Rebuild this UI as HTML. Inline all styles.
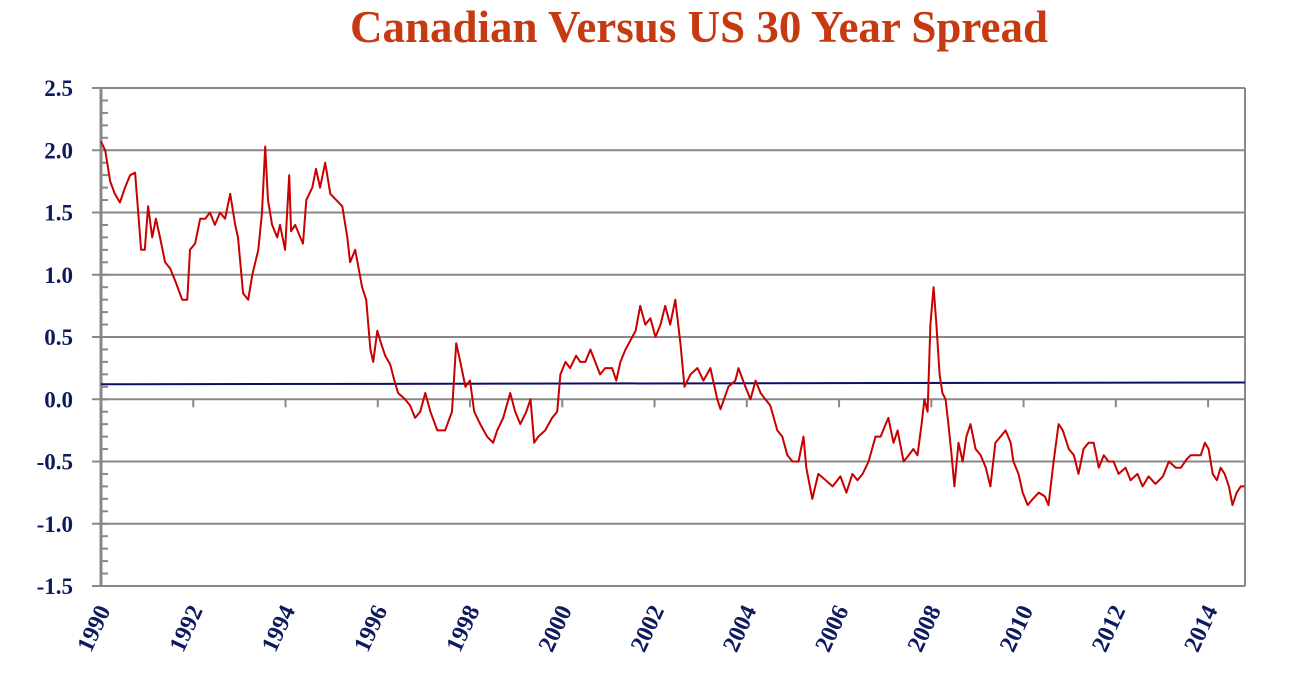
<!DOCTYPE html>
<html><head><meta charset="utf-8"><style>
body{margin:0;background:#fff;}
svg{display:block;}
</style></head><body>
<svg id="chart" width="1296" height="679" xmlns="http://www.w3.org/2000/svg">
<text x="699" y="42" text-anchor="middle" font-family="Liberation Serif, serif" font-weight="bold" font-size="45" fill="#c63a12">Canadian Versus US 30 Year Spread</text>
<g id="grid"></g>
<g id="axes"></g>
<g id="series"></g>
</svg>
<script>
const yTicks=[2.5,2.0,1.5,1.0,0.5,0.0,-0.5,-1.0,-1.5];
const yTickLabels=["2.5","2.0","1.5","1.0","0.5","0.0","-0.5","-1.0","-1.5"];
const xTicks=[1990,1992,1994,1996,1998,2000,2002,2004,2006,2008,2010,2012,2014];
const avgStart=0.12, avgEnd=0.135;
const dates=[1990.00,1990.09,1990.20,1990.30,1990.41,1990.52,1990.63,1990.74,1990.87,1990.95,1991.02,1991.11,1991.19,1991.28,1991.39,1991.50,1991.61,1991.76,1991.87,1991.93,1992.04,1992.15,1992.26,1992.36,1992.47,1992.58,1992.69,1992.80,1992.91,1992.97,1993.08,1993.19,1993.28,1993.41,1993.49,1993.56,1993.62,1993.71,1993.82,1993.88,1993.99,1994.08,1994.12,1994.21,1994.32,1994.38,1994.45,1994.58,1994.66,1994.75,1994.86,1994.97,1995.10,1995.23,1995.34,1995.40,1995.51,1995.66,1995.75,1995.84,1995.90,1995.99,1996.07,1996.16,1996.27,1996.36,1996.44,1996.59,1996.70,1996.81,1996.92,1997.03,1997.14,1997.29,1997.46,1997.61,1997.70,1997.79,1997.90,1998.00,1998.09,1998.22,1998.37,1998.50,1998.59,1998.72,1998.87,1998.98,1999.09,1999.22,1999.31,1999.39,1999.48,1999.63,1999.78,1999.89,1999.96,2000.07,2000.17,2000.30,2000.39,2000.50,2000.61,2000.82,2000.93,2001.08,2001.17,2001.26,2001.37,2001.59,2001.69,2001.80,2001.91,2002.02,2002.13,2002.23,2002.34,2002.45,2002.56,2002.65,2002.78,2002.93,2003.06,2003.21,2003.36,2003.43,2003.60,2003.75,2003.82,2003.97,2004.08,2004.19,2004.30,2004.40,2004.51,2004.66,2004.77,2004.88,2004.99,2005.12,2005.23,2005.29,2005.42,2005.55,2005.71,2005.86,2006.03,2006.16,2006.29,2006.40,2006.51,2006.64,2006.79,2006.90,2007.01,2007.07,2007.18,2007.27,2007.40,2007.51,2007.61,2007.70,2007.79,2007.85,2007.92,2007.98,2008.05,2008.11,2008.18,2008.24,2008.31,2008.37,2008.44,2008.50,2008.59,2008.68,2008.76,2008.85,2008.96,2009.07,2009.18,2009.28,2009.39,2009.50,2009.61,2009.72,2009.78,2009.89,2009.98,2010.09,2010.20,2010.33,2010.46,2010.54,2010.65,2010.76,2010.85,2010.98,2011.09,2011.19,2011.30,2011.41,2011.52,2011.63,2011.74,2011.84,2011.95,2012.06,2012.21,2012.32,2012.47,2012.58,2012.71,2012.86,2013.02,2013.15,2013.30,2013.41,2013.54,2013.62,2013.71,2013.84,2013.93,2014.01,2014.10,2014.19,2014.27,2014.36,2014.45,2014.53,2014.62,2014.71,2014.79];
const spread=[2.07,2.0,1.75,1.65,1.58,1.7,1.8,1.82,1.2,1.2,1.55,1.3,1.45,1.3,1.1,1.05,0.95,0.8,0.8,1.2,1.25,1.45,1.45,1.5,1.4,1.5,1.45,1.65,1.4,1.3,0.85,0.8,1.0,1.2,1.5,2.03,1.6,1.4,1.3,1.4,1.2,1.8,1.35,1.4,1.3,1.25,1.6,1.7,1.85,1.7,1.9,1.65,1.6,1.55,1.3,1.1,1.2,0.9,0.8,0.4,0.3,0.55,0.45,0.35,0.28,0.15,0.05,0.0,-0.05,-0.15,-0.1,0.05,-0.1,-0.25,-0.25,-0.1,0.45,0.3,0.1,0.15,-0.1,-0.2,-0.3,-0.35,-0.25,-0.15,0.05,-0.1,-0.2,-0.1,0.0,-0.35,-0.3,-0.25,-0.15,-0.1,0.2,0.3,0.25,0.35,0.3,0.3,0.4,0.2,0.25,0.25,0.15,0.3,0.4,0.55,0.75,0.6,0.65,0.5,0.6,0.75,0.6,0.8,0.45,0.1,0.2,0.25,0.15,0.25,0.0,-0.08,0.1,0.15,0.25,0.1,0.0,0.15,0.05,0.0,-0.05,-0.25,-0.3,-0.45,-0.5,-0.5,-0.3,-0.55,-0.8,-0.6,-0.65,-0.7,-0.62,-0.75,-0.6,-0.65,-0.6,-0.5,-0.3,-0.3,-0.2,-0.15,-0.35,-0.25,-0.5,-0.45,-0.4,-0.45,-0.2,0.0,-0.1,0.6,0.9,0.6,0.2,0.05,0.0,-0.2,-0.45,-0.7,-0.35,-0.5,-0.3,-0.2,-0.4,-0.45,-0.55,-0.7,-0.35,-0.3,-0.25,-0.35,-0.5,-0.6,-0.75,-0.85,-0.8,-0.75,-0.78,-0.85,-0.5,-0.2,-0.25,-0.4,-0.45,-0.6,-0.4,-0.35,-0.35,-0.55,-0.45,-0.5,-0.5,-0.6,-0.55,-0.65,-0.6,-0.7,-0.62,-0.68,-0.62,-0.5,-0.55,-0.55,-0.48,-0.45,-0.45,-0.45,-0.35,-0.4,-0.6,-0.65,-0.55,-0.6,-0.7,-0.85,-0.75,-0.7,-0.7];

const NS='http://www.w3.org/2000/svg';
const L=101,R=1245,T=88,B=586;
const yMin=-1.5,yMax=2.5,xMin=1990,xMax=2014.8;
const yS=v=>B-(v-yMin)/(yMax-yMin)*(B-T);
const xS=t=>L+(t-xMin)/(xMax-xMin)*(R-L);
function mk(tag,attrs,parent){const e=document.createElementNS(NS,tag);for(const k in attrs)e.setAttribute(k,attrs[k]);parent.appendChild(e);return e;}
const grid=document.getElementById('grid'),axes=document.getElementById('axes'),series=document.getElementById('series');
yTicks.forEach((v,i)=>{
  const ln=mk('line',{x1:92,x2:R,y1:yS(v),y2:yS(v),stroke:'#888',"stroke-width":2},grid);
  
  
  const tx=mk('text',{x:73,y:yS(v)+8,"text-anchor":"end","font-family":"Liberation Serif, serif","font-weight":"bold","font-size":23,fill:'#0d1a5e'},axes);
  tx.textContent=yTickLabels[i];
  
  
});
for(let v=yMin;v<=yMax+1e-9;v+=0.1){
  const tk=mk('line',{x1:L,x2:L+7,y1:yS(v),y2:yS(v),stroke:'#888',"stroke-width":2},axes);
  
  
}
const ya=mk('line',{x1:L,x2:L,y1:T,y2:B,stroke:'#888',"stroke-width":3},axes);


const rb=mk('line',{x1:R,x2:R,y1:T,y2:B,stroke:'#888',"stroke-width":2},axes);


xTicks.forEach(t=>{
  const x=xS(t);
  if(t>xMin){const tk=mk('line',{x1:x,x2:x,y1:yS(0),y2:yS(0)+8,stroke:'#888',"stroke-width":2},axes);
  
  }
  const tx=mk('text',{transform:`translate(${x+10},610) rotate(-65)`,"text-anchor":"end","font-family":"Liberation Serif, serif","font-weight":"bold","font-size":24,fill:'#0d1a5e'},axes);
  tx.textContent=String(t);
  
  
});
const avg=mk('line',{x1:L,x2:R,y1:yS(avgStart),y2:yS(avgEnd),stroke:'#0a0f6b',"stroke-width":2},series);


const pts=dates.map((d,i)=>xS(d).toFixed(1)+','+yS(spread[i]).toFixed(1)).join(' ');
const pl=mk('polyline',{points:pts,fill:'none',stroke:'#c80000',"stroke-width":2,"stroke-linejoin":"round"},series);


</script>
</body></html>
